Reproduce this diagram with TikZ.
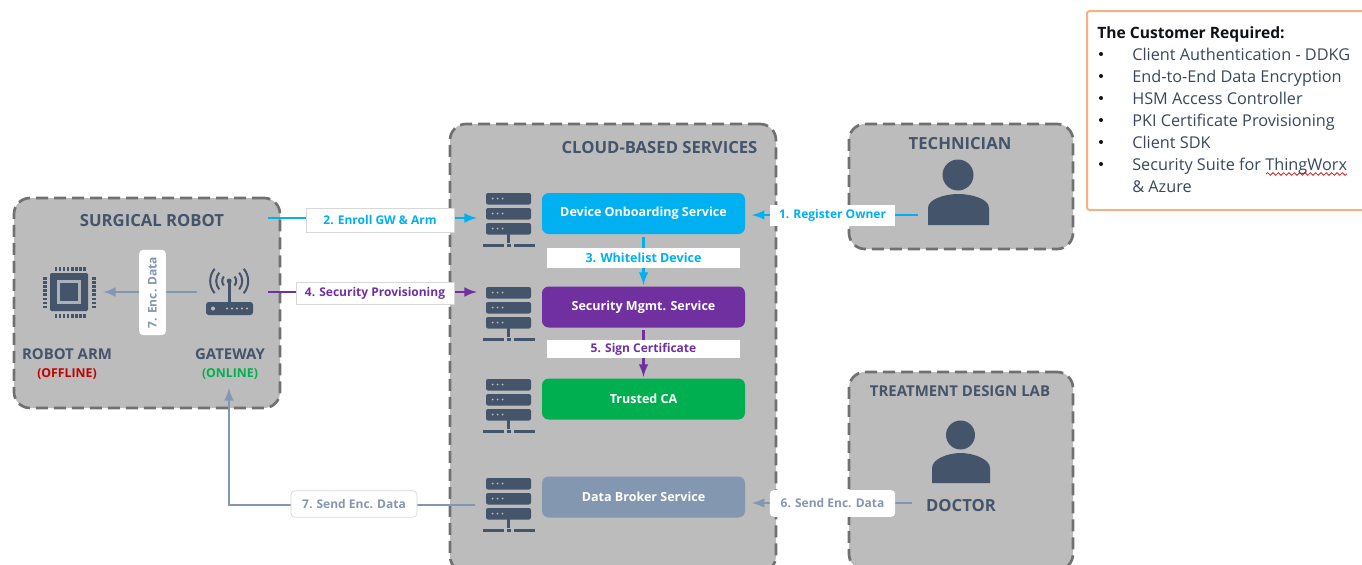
\documentclass[tikz,border=0pt]{standalone}
\usepackage{fontspec}
\setmainfont{Open Sans}
\usetikzlibrary{arrows}
\usetikzlibrary{decorations.pathmorphing}
\definecolor{slatedark}{HTML}{44546A}
\definecolor{slatelight}{HTML}{8497B0}
\definecolor{panelgray}{HTML}{BCBCBC}
\definecolor{dashgray}{HTML}{707070}
\definecolor{flowblue}{HTML}{00B0F0}
\definecolor{flowpurple}{HTML}{7030A0}
\definecolor{flowgreen}{HTML}{00B050}
\definecolor{offred}{HTML}{C00000}
\definecolor{boxorange}{HTML}{F4B183}
\tikzset{
  panel/.style={draw=dashgray, fill=panelgray, line width=2pt, dash pattern=on 9pt off 4.5pt, rounded corners=12pt, inner sep=0pt},
  paneltitle/.style={text=slatedark, font=\bfseries\fontsize{12.5}{14}\selectfont, inner sep=0pt},
  smalltitle/.style={text=slatedark, font=\bfseries\fontsize{11.2}{13}\selectfont, inner sep=0pt},
  statetext/.style={inner sep=0pt, font=\bfseries\fontsize{9.2}{11}\selectfont},
  servicebox/.style={rounded corners=5pt, minimum width=152.25pt, minimum height=30.75pt, inner sep=0pt, text=white, font=\bfseries\fontsize{9.4}{11}\selectfont},
  flowlabel/.style={fill=white, inner sep=0pt, font=\bfseries\fontsize{9}{11}\selectfont},
  edgedlabel/.style={flowlabel, draw=panelgray!60, line width=0.5pt},
  flowline/.style={line width=2.2pt, -latex},
  listline/.style={anchor=west, inner sep=0pt, text height=9pt, text depth=3pt, text=slatedark!85!black, font=\fontsize{12.2}{14}\selectfont},
  serverrack/.pic={
    \foreach \rowy in {0,15,30} {
      \fill[slatedark, rounded corners=1.5pt] (-22.5,\rowy) rectangle (22.5,\rowy+11.5);
      \foreach \dotx in {-16,-11,-6} \fill[panelgray] (\dotx,\rowy+5.5) circle [radius=1];
    }
    \fill[slatedark] (-1.5,41) rectangle (1.5,50);
    \fill[slatedark] (-26,50.5) rectangle (-5,54);
    \fill[slatedark] (-2,50.5) rectangle (2,54);
    \fill[slatedark] (5,50.5) rectangle (26,54);
  }
}
\begin{document}
\begin{tikzpicture}[x=0.75pt, y=-0.75pt]
  \useasboundingbox (0,0) rectangle (1362,564);
  % panels
  \node[panel, minimum width=199.5pt, minimum height=157.5pt] (robot) at (147,303) {};
  \node[panel, minimum width=244.5pt, minimum height=336pt] (cloud) at (613,348) {};
  \node[panel, minimum width=168pt, minimum height=93.75pt] (tech) at (961,186.5) {};
  \node[panel, minimum width=168pt, minimum height=148.5pt] (lab) at (961,471) {};
  % panel titles
  \node[paneltitle] (robottitle) at (152,221) {SURGICAL ROBOT};
  \node[paneltitle] (cloudtitle) at (659.5,148) {CLOUD-BASED SERVICES};
  \node[paneltitle] (techtitle) at (960,144) {TECHNICIAN};
  \node[smalltitle] (labtitle) at (960,391.5) {TREATMENT DESIGN LAB};
  \node[paneltitle] (doctor) at (961,506) {DOCTOR};
  \node[smalltitle] (armtitle) at (67,354.5) {ROBOT ARM};
  \node[statetext, text=offred] (offline) at (67,374) {(OFFLINE)};
  \node[smalltitle] (gwtitle) at (230,354.5) {GATEWAY};
  \node[statetext, text=flowgreen] (online) at (230,374) {(ONLINE)};
  % services
  \node[servicebox, fill=flowblue] (device) at (643.5,213.5) {Device Onboarding Service};
  \node[servicebox, fill=flowpurple] (security) at (643.5,307) {Security Mgmt. Service};
  \node[servicebox, fill=flowgreen] (trusted) at (643.5,399) {Trusted CA};
  \node[servicebox, fill=slatelight] (broker) at (643.5,497) {Data Broker Service};
  % server racks
  \pic at (508.5,193) {serverrack};
  \pic at (508.5,287) {serverrack};
  \pic at (508.5,379) {serverrack};
  \pic at (508.5,478) {serverrack};
  % technician and doctor
  \fill[slatedark] (958,175) circle [radius=15.5];
  \fill[slatedark] (928,225) -- (928,208) .. controls (928,199) and (945,194) .. (958,194) .. controls (972,194) and (989,199) .. (989,208) -- (989,225) -- cycle;
  \fill[slatedark] (960.5,435) circle [radius=14.5];
  \fill[slatedark] (932,483) -- (932,468) .. controls (932,459) and (948,453) .. (960.5,453) .. controls (973,453) and (990,459) .. (990,468) -- (990,483) -- cycle;
  % chip
  \fill[slatedark, rounded corners=1pt] (50,273) rectangle (88,311);
  \fill[panelgray!70!slatelight] (57,280) rectangle (81,304);
  \fill[slatedark] (60,283) rectangle (78,301);
  \foreach \pin in {0,1,...,7} {
    \fill[slatedark] (54.5+\pin*4.1,266.5) rectangle +(2.6,4);
    \fill[slatedark] (54.5+\pin*4.1,313.5) rectangle +(2.6,4);
    \fill[slatedark] (42.5,277+\pin*4.1) rectangle +(4,2.6);
    \fill[slatedark] (91.5,277+\pin*4.1) rectangle +(4,2.6);
  }
  % gateway
  \fill[slatedark, rounded corners=2pt] (206,302) rectangle (253,315);
  \fill[slatedark] (228,281) rectangle (230.5,302);
  \fill[slatedark] (229.2,281) circle [radius=2.5];
  \foreach \dotx in {227,232,237,242,247} \fill[panelgray] (\dotx,308.5) circle [radius=1.1];
  \fill[panelgray] (213,308.5) circle [radius=2];
  \foreach \wave in {7,13,19} {
    \draw[slatedark, line width=1.5pt] (229.2,281) ++(40:\wave) arc (40:-40:\wave);
    \draw[slatedark, line width=1.5pt] (229.2,281) ++(140:\wave) arc (140:220:\wave);
  }
  % flow end points
  \coordinate (enrollstart) at (268,218);
  \coordinate (enrollend) at (477,218);
  \coordinate (provstart) at (268,292);
  \coordinate (provend) at (477,292);
  \coordinate (regstart) at (918,215);
  \coordinate (sendstart) at (912,503);
  \coordinate (brokerstart) at (475,505);
  \coordinate (gwbottom) at (229,388);
  \coordinate (gwleft) at (197,292);
  \coordinate (chipright) at (103,292);
  % flows
  \draw[flowline, flowblue] (enrollstart) -- (enrollend);
  \draw[flowline, flowblue, shorten >=5pt] (regstart) -- (regstart -| device.east);
  \draw[flowline, flowblue, shorten <=2pt, shorten >=1pt] (device.south) -- (security.north);
  \draw[flowline, flowpurple] (provstart) -- (provend);
  \draw[flowline, flowpurple, shorten <=2pt, shorten >=1pt] (security.south) -- (trusted.north);
  \draw[flowline, slatelight, shorten >=5pt] (sendstart) -- (sendstart -| broker.east);
  \draw[flowline, slatelight] (brokerstart) -| (gwbottom);
  \draw[flowline, slatelight] (gwleft) -- (chipright);
  % flow labels
  \node[edgedlabel, text=flowblue, minimum width=111pt, minimum height=18pt] (enroll) at (380,220.5) {2. Enroll GW \& Arm};
  \node[flowlabel, text=flowblue, minimum width=94pt, minimum height=15.75pt] (register) at (832.5,215.5) {1. Register Owner};
  \node[flowlabel, text=flowblue, font=\bfseries\fontsize{9.4}{11}\selectfont, minimum width=144.75pt, minimum height=15pt] (whitelist) at (643.5,257.5) {3. Whitelist Device};
  \node[edgedlabel, text=flowpurple, minimum width=118.5pt, minimum height=16.5pt] (provision) at (375,293) {4. Security Provisioning};
  \node[flowlabel, text=flowpurple, minimum width=144.75pt, minimum height=13.5pt] (sign) at (643.5,349) {5. Sign Certificate};
  \node[flowlabel, text=slatelight, rounded corners=3pt, minimum width=94pt, minimum height=20pt] (send6) at (832.5,503.5) {6. Send Enc. Data};
  \node[edgedlabel, text=slatelight, rounded corners=3pt, minimum width=94.5pt, minimum height=20pt] (send7) at (354,504) {7. Send Enc. Data};
  \node[flowlabel, text=slatelight, rounded corners=3pt, rotate=90, minimum width=64pt, minimum height=20pt] (encdata) at (152.5,292.5) {7. Enc. Data};
  % requirements box
  \draw[boxorange, line width=1.5pt, rounded corners=2pt] (1087,11) -- (1375,11) -- (1375,210) -- (1087,210) -- cycle;
  \node[listline, font=\bfseries\fontsize{11.7}{14}\selectfont, text=black!80!slatedark] (listtitle) at (1097,34) {The Customer Required:};
  \foreach \rowy/\rowtext [count=\rowid] in {54/Client Authentication - DDKG, 76/End-to-End Data Encryption, 98/HSM Access Controller, 120/PKI Certificate Provisioning, 142/Client SDK, 164/Security Suite for ThingWorx} {
    \fill[black!80!slatedark] (1101,\rowy) circle [radius=2];
    \node[listline] (listrow\rowid) at (1132,\rowy+2) {\rowtext};
  }
  \node[listline] (listlast) at (1132,188) {\& Azure};
  % spell check underline
  \draw[red!80!black, line width=0.5pt, decorate, decoration={snake, amplitude=1pt, segment length=4pt}] (1266,174) -- (1347,174);
\end{tikzpicture}
\end{document}
